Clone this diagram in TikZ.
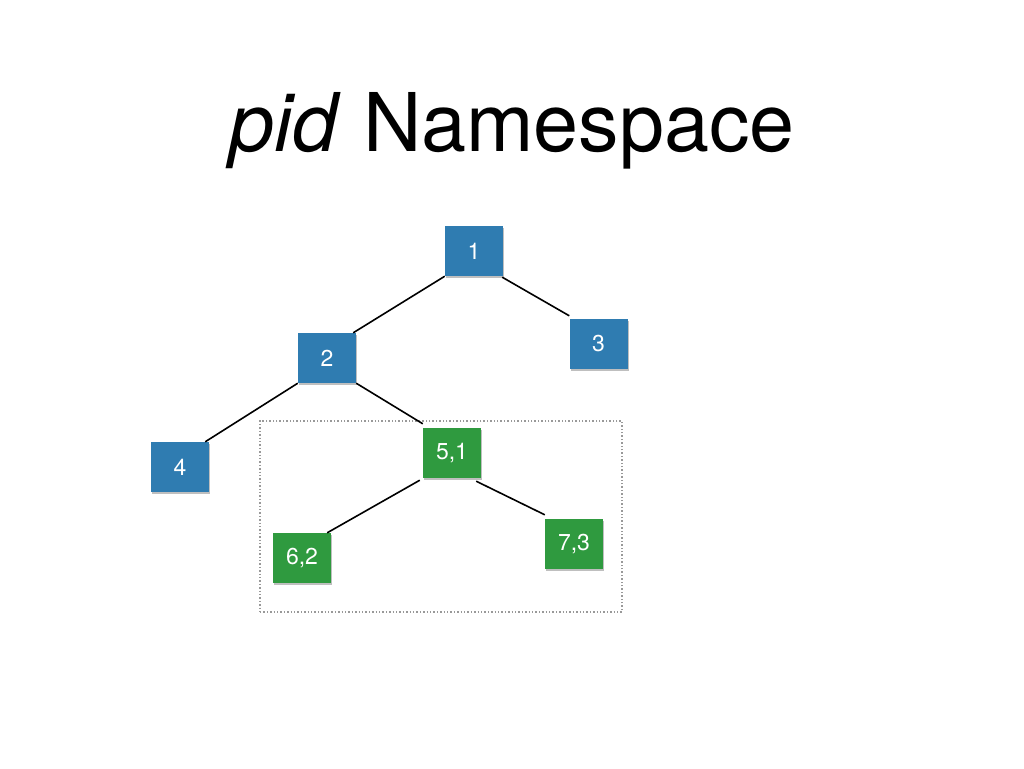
\documentclass[tikz,border=0pt]{standalone}
\usepackage{fontspec}
\setmainfont{TeX Gyre Heros}
\usetikzlibrary{shadows}
\definecolor{pblue}{HTML}{2F7CB1}
\definecolor{pgreen}{HTML}{2F9A3F}
\definecolor{boxgray}{HTML}{999999}
\begin{document}
\begin{tikzpicture}[x=1pt,y=-1pt,
  proc/.style={minimum width=58pt,minimum height=50pt,inner sep=0pt,text=white,
    font=\fontsize{23}{23}\selectfont,
    drop shadow={shadow xshift=1pt,shadow yshift=-1.5pt,opacity=0.25,fill=black}},
  bluep/.style={proc,fill=pblue},
  greenp/.style={proc,fill=pgreen},
  edge/.style={draw=black,line width=1.6pt}]
\useasboundingbox (0,0) rectangle (1024,768);
\fill[white] (0,0) rectangle (1024,768);
\node[anchor=base,font=\fontsize{81}{81}\selectfont] (title) at (512,151) {\textit{pid} Namespace};
\node[draw=boxgray,dotted,line width=1.4pt,minimum width=362pt,minimum height=191pt,inner sep=0pt] (ns) at (441,516.5) {};
\node[bluep] (n1) at (474,251) {1};
\node[bluep] (n2) at (327,358) {2};
\node[bluep] (n3) at (598.5,344) {3};
\node[bluep] (n4) at (180,467) {4};
\node[greenp] (n5) at (452,453) {5,1};
\node[greenp] (n6) at (302,558) {6,2};
\node[greenp] (n7) at (574,544) {7,3};
\draw[edge] (n1.south west) -- ([xshift=-3pt]n2.north east);
\draw[edge] ([xshift=-1pt,yshift=-1pt]n1.south east) -- ([yshift=3pt]n3.north west);
\draw[edge] (n2.south west) -- ([xshift=-4pt]n4.north east);
\draw[edge] (n2.south east) -- ([yshift=4pt]n5.north west);
\draw[edge] ([xshift=-3pt,yshift=-2pt]n5.south west) -- ([xshift=-4pt]n6.north east);
\draw[edge] ([xshift=-5pt,yshift=-3pt]n5.south east) -- ([yshift=4pt]n7.north west);
\end{tikzpicture}
\end{document}
